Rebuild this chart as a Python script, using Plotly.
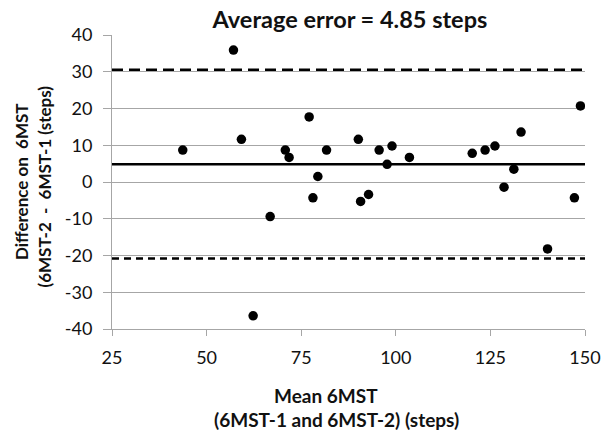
import plotly.graph_objects as go

mean_6mst = [43.7, 57.1, 59.2, 62.3, 66.8, 70.8, 71.8, 77.1, 78.1, 79.4, 81.7,
             90.1, 90.7, 92.8, 95.6, 97.7, 99.0, 103.6, 120.2, 123.6, 126.2,
             128.6, 131.2, 133.1, 140.1, 147.2, 148.8]
diff_6mst = [8.7, 35.9, 11.6, -36.4, -9.4, 8.7, 6.7, 17.7, -4.3, 1.5, 8.7,
             11.6, -5.3, -3.4, 8.7, 4.8, 9.8, 6.7, 7.8, 8.7, 9.8,
             -1.4, 3.5, 13.6, -18.2, -4.3, 20.7]
mean_diff = 4.85
upper_loa = 30.55
lower_loa = -20.85
x_ticks = [25, 50, 75, 100, 125, 150]
y_ticks = [-40, -30, -20, -10, 0, 10, 20, 30, 40]
y_ticktext = [str(v) for v in y_ticks]

title_text = "Average error = 4.85 steps"
x_title = ["Mean 6MST", "(6MST-1 and 6MST-2) (steps)"]
y_title = ["Difference on\u00a0\u00a06MST", "(6MST-2\u00a0\u00a0-\u00a0\u00a06MST-1 (steps)"]

FONT = "Lato"
GRID = "#a6a6a6"
TXT = "#111111"

fig = go.Figure()
fig.add_trace(go.Scatter(x=mean_6mst, y=diff_6mst, mode="markers",
                         marker=dict(color="black", size=9.5), showlegend=False))

fig.add_hline(y=mean_diff, line=dict(color="black", width=2.5))
fig.add_hline(y=upper_loa, line=dict(color="black", width=2.5, dash="11px,6px"))
fig.add_hline(y=lower_loa, line=dict(color="black", width=2.5, dash="7px,5px"))

fig.update_layout(
    width=613, height=431,
    margin=dict(l=112, r=18, t=35, b=102),
    paper_bgcolor="white", plot_bgcolor="white",
    font=dict(family=FONT, size=18, color=TXT),
    title=dict(text="<b>" + title_text + "</b>", x=0.503, xanchor="center",
               xref="paper", y=0.954, yanchor="middle",
               font=dict(family=FONT, size=23.5, color=TXT)),
)

# axis titles as annotations (positioned like the reference)
ann = [
    dict(text="<b>" + x_title[0] + "</b>", x=0.453, y=-0.2245, size=19, angle=0),
    dict(text="<b>" + x_title[1] + "</b>", x=0.474, y=-0.3095, size=19, angle=0),
    dict(text="<b>" + y_title[0] + "</b>", x=-0.1925, y=0.503, size=17, angle=-90),
    dict(text="<b>" + y_title[1] + "</b>", x=-0.1429, y=0.486, size=17, angle=-90),
]
for a in ann:
    fig.add_annotation(text=a["text"], x=a["x"], y=a["y"], xref="paper", yref="paper",
                       xanchor="center", yanchor="middle", showarrow=False,
                       textangle=a["angle"], font=dict(family=FONT, size=a["size"], color=TXT))

fig.update_xaxes(range=[25, 150], tickvals=x_ticks, showgrid=False, zeroline=False,
                 showline=True, linecolor=GRID, linewidth=1,
                 ticks="outside", ticklen=6, tickcolor=GRID,
                 tickfont=dict(size=18), ticklabelstandoff=6)
fig.update_yaxes(range=[-40, 40], tickvals=y_ticks, ticktext=y_ticktext,
                 showgrid=True, gridcolor=GRID, gridwidth=1, zeroline=False,
                 showline=True, linecolor=GRID, linewidth=1,
                 ticks="outside", ticklen=8, tickcolor=GRID,
                 tickfont=dict(size=18), ticklabelstandoff=7)

fig.write_html("out.html")
